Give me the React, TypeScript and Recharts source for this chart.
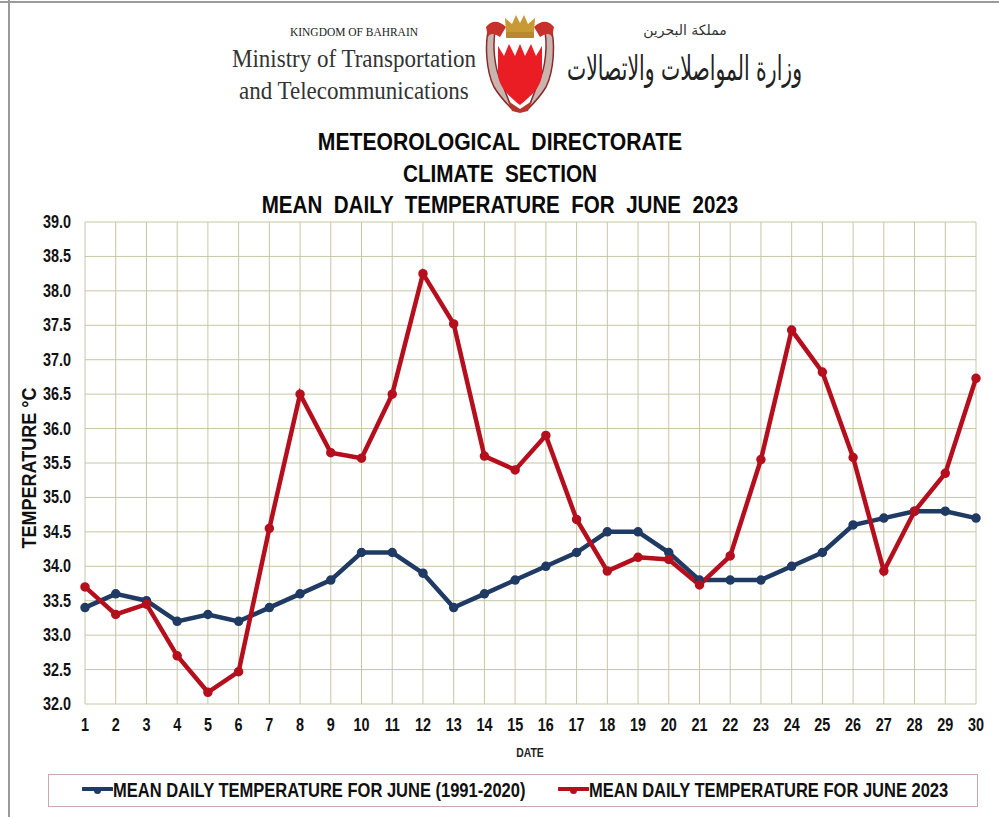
import React from "react";
import { LineChart, Line, XAxis, YAxis, CartesianGrid, Legend, Label } from "recharts";

const days = [1,2,3,4,5,6,7,8,9,10,11,12,13,14,15,16,17,18,19,20,21,22,23,24,25,26,27,28,29,30];
const normal = [33.4,33.6,33.5,33.2,33.3,33.2,33.4,33.6,33.8,34.2,34.2,33.9,33.4,33.6,33.8,34.0,34.2,34.5,34.5,34.2,33.8,33.8,33.8,34.0,34.2,34.6,34.7,34.8,34.8,34.7];
const june2023 = [33.7,33.3,33.45,32.7,32.17,32.47,34.55,36.5,35.65,35.57,36.5,38.25,37.52,35.6,35.4,35.9,34.68,33.93,34.13,34.1,33.73,34.15,35.55,37.43,36.82,35.58,33.93,34.8,35.35,36.73];
const yTicks = [32,32.5,33,33.5,34,34.5,35,35.5,36,36.5,37,37.5,38,38.5,39];
const titles = ["METEOROLOGICAL  DIRECTORATE", "CLIMATE  SECTION", "MEAN  DAILY  TEMPERATURE  FOR  JUNE  2023"];
const normalName = "MEAN DAILY TEMPERATURE FOR JUNE (1991-2020)";
const currentName = "MEAN DAILY TEMPERATURE FOR JUNE 2023";
const BLUE = "#1f3a63";
const RED = "#b50f1e";
const rows = days.map((d, i) => ({ day: d, normal: normal[i], current: june2023[i] }));

const SANS = "'Liberation Sans', Arial, sans-serif";
const SERIF = "'Liberation Serif', serif";
const ARABIC = "'DejaVu Sans', sans-serif";

const abs = (o: React.CSSProperties): React.CSSProperties => ({ position: "absolute", whiteSpace: "pre", ...o });

function XTick({ x, y, payload }: any) {
  return (
    <text transform={`translate(${x},${y + 19}) scale(0.8,1)`} textAnchor="middle" fontFamily={SANS} fontWeight={700} fontSize={18} fill="#111">
      {payload.value}
    </text>
  );
}

function YTick({ y, payload }: any) {
  return (
    <text transform={`translate(71,${y + 6}) scale(0.8,1)`} textAnchor="end" fontFamily={SANS} fontWeight={700} fontSize={18} fill="#111">
      {Number(payload.value).toFixed(1)}
    </text>
  );
}

function LegendKey({ color }: { color: string }) {
  return (
    <svg width={31} height={14} style={{ display: "block", flexShrink: 0 }}>
      <line x1={1} y1={6} x2={30} y2={6} stroke={color} strokeWidth={4} strokeLinecap="round" />
      <circle cx={15.5} cy={7.5} r={3.5} fill={color} />
    </svg>
  );
}

function LegendBox() {
  const text: React.CSSProperties = { display: "inline-block", flexShrink: 0, transform: "scaleX(0.786)", transformOrigin: "left center", fontFamily: SANS, fontWeight: 700, fontSize: 21, color: "#111", lineHeight: "30px", whiteSpace: "pre" };
  return (
    <div style={{ position: "relative", width: 930, height: 33, boxSizing: "border-box", border: "1px solid #c9a9ae", background: "#fff" }}>
      <div style={{ position: "absolute", left: 33, top: 0, display: "flex", alignItems: "center", width: 440 }}>
        <LegendKey color={BLUE} />
        <span style={text}>{normalName}</span>
      </div>
      <div style={{ position: "absolute", left: 509, top: 0, display: "flex", alignItems: "center", width: 400 }}>
        <LegendKey color={RED} />
        <span style={text}>{currentName}</span>
      </div>
    </div>
  );
}

function Crest() {
  return (
    <svg width={76} height={100} viewBox="0 0 76 100" style={{ position: "absolute", left: 482, top: 13 }}>
      <path d="M8 12 C2 28 4 58 12 74 C18 84 24 90 30 96 L20 70 C12 56 10 30 14 14 Z" fill="#c9b4ae" stroke="#8a2a2a" strokeWidth={1.5} />
      <path d="M68 12 C74 28 72 58 64 74 C58 84 52 90 46 96 L56 70 C64 56 66 30 62 14 Z" fill="#c9b4ae" stroke="#8a2a2a" strokeWidth={1.5} />
      <path d="M4 14 C10 6 18 8 24 14 L18 24 C12 20 8 20 6 24 Z" fill="#c8302c" />
      <path d="M72 14 C66 6 58 8 52 14 L58 24 C64 20 68 20 70 24 Z" fill="#c8302c" />
      <path d="M24 20 L23 5 L30 11 L34 2 L38 10 L42 2 L46 11 L53 5 L52 20 Z" fill="#c89a35" />
      <rect x={24} y={19} width={28} height={6} fill="#b58a2c" />
      <path d="M16 33 L22 43 L27 31 L33 43 L38 31 L43 43 L49 31 L54 43 L60 33 L60 60 C60 74 48 84 38 92 C28 84 16 74 16 60 Z" fill="#ea1c24" />
      <path d="M26 88 L38 96 L50 88 L46 98 L38 100 L30 98 Z" fill="#b8342c" />
    </svg>
  );
}

const yLabel = () => (
  <text transform="translate(36,468) rotate(-90) scale(0.9,1)" textAnchor="middle" fontFamily={SANS} fontWeight={700} fontSize={20} fill="#111">
    TEMPERATURE °C
  </text>
);

const xLabel = () => (
  <text transform="translate(530,757) scale(0.8,1)" textAnchor="middle" fontFamily={SANS} fontWeight={700} fontSize={13} fill="#222">
    DATE
  </text>
);

export default function App() {
  return (
    <div style={{ position: "absolute", left: 0, top: 0, width: 999, height: 817, background: "#fff", overflow: "hidden" }}>
      <div style={abs({ left: 8, top: 0, width: 2, height: 817, background: "#9a9a9a" })} />
      <div style={abs({ left: 0, top: 1, width: 999, height: 2, background: "#9a9a9a" })} />

      <div style={abs({ left: 221, width: 266, top: 25, textAlign: "center", fontFamily: SERIF, fontSize: 12, color: "#222", transform: "scaleX(0.955)" })}>KINGDOM OF BAHRAIN</div>
      <div style={abs({ left: 232, top: 45, fontFamily: SERIF, fontSize: 25, color: "#333", transform: "scaleX(0.92)", transformOrigin: "left center" })}>Ministry of Transportation</div>
      <div style={abs({ left: 239, top: 77, fontFamily: SERIF, fontSize: 25, color: "#333", transform: "scaleX(0.92)", transformOrigin: "left center" })}>and Telecommunications</div>
      <Crest />
      <div dir="rtl" style={abs({ left: 620, width: 130, top: 22, textAlign: "center", fontFamily: ARABIC, fontSize: 14, color: "#333" })}>مملكة البحرين</div>
      <div dir="rtl" style={abs({ left: 302, width: 500, top: 48, textAlign: "right", fontFamily: ARABIC, fontSize: 34, color: "#222", transform: "scaleX(0.6)", transformOrigin: "right center" })}>وزارة المواصلات والاتصالات</div>

      {titles.map((t, i) => (
        <div key={t} style={abs({ left: 0, width: 1000, top: [128, 160, 191][i], textAlign: "center", fontFamily: SANS, fontWeight: 700, fontSize: 23, lineHeight: "28px", color: "#0a0a0a", transform: `scaleX(${[0.92, 0.9, 0.895][i]})` })}>{t}</div>
      ))}

      <div style={abs({ left: 0, top: 0 })}>
        <LineChart width={999} height={817} data={rows} margin={{ top: 222, right: 23, bottom: 37, left: 25 }}>
          <CartesianGrid stroke="#c6c6a6" strokeWidth={1} horizontal vertical />
          <XAxis dataKey="day" interval={0} axisLine={false} tickLine={false} height={43} tick={<XTick />}>
            <Label content={xLabel} />
          </XAxis>
          <YAxis domain={[32, 39]} ticks={yTicks} interval={0} width={60} axisLine={false} tickLine={false} tick={<YTick />}>
            <Label content={yLabel} />
          </YAxis>
          <Line type="linear" dataKey="normal" name={normalName} stroke={BLUE} strokeWidth={4.5} dot={{ r: 2.5, fill: BLUE, stroke: BLUE }} isAnimationActive={false} />
          <Line type="linear" dataKey="current" name={currentName} stroke={RED} strokeWidth={4.5} dot={{ r: 2.5, fill: RED, stroke: RED }} isAnimationActive={false} />
          <Legend content={() => <LegendBox />} wrapperStyle={{ position: "absolute", left: 48, top: 774, width: 930, bottom: "auto" }} />
        </LineChart>
      </div>
    </div>
  );
}
